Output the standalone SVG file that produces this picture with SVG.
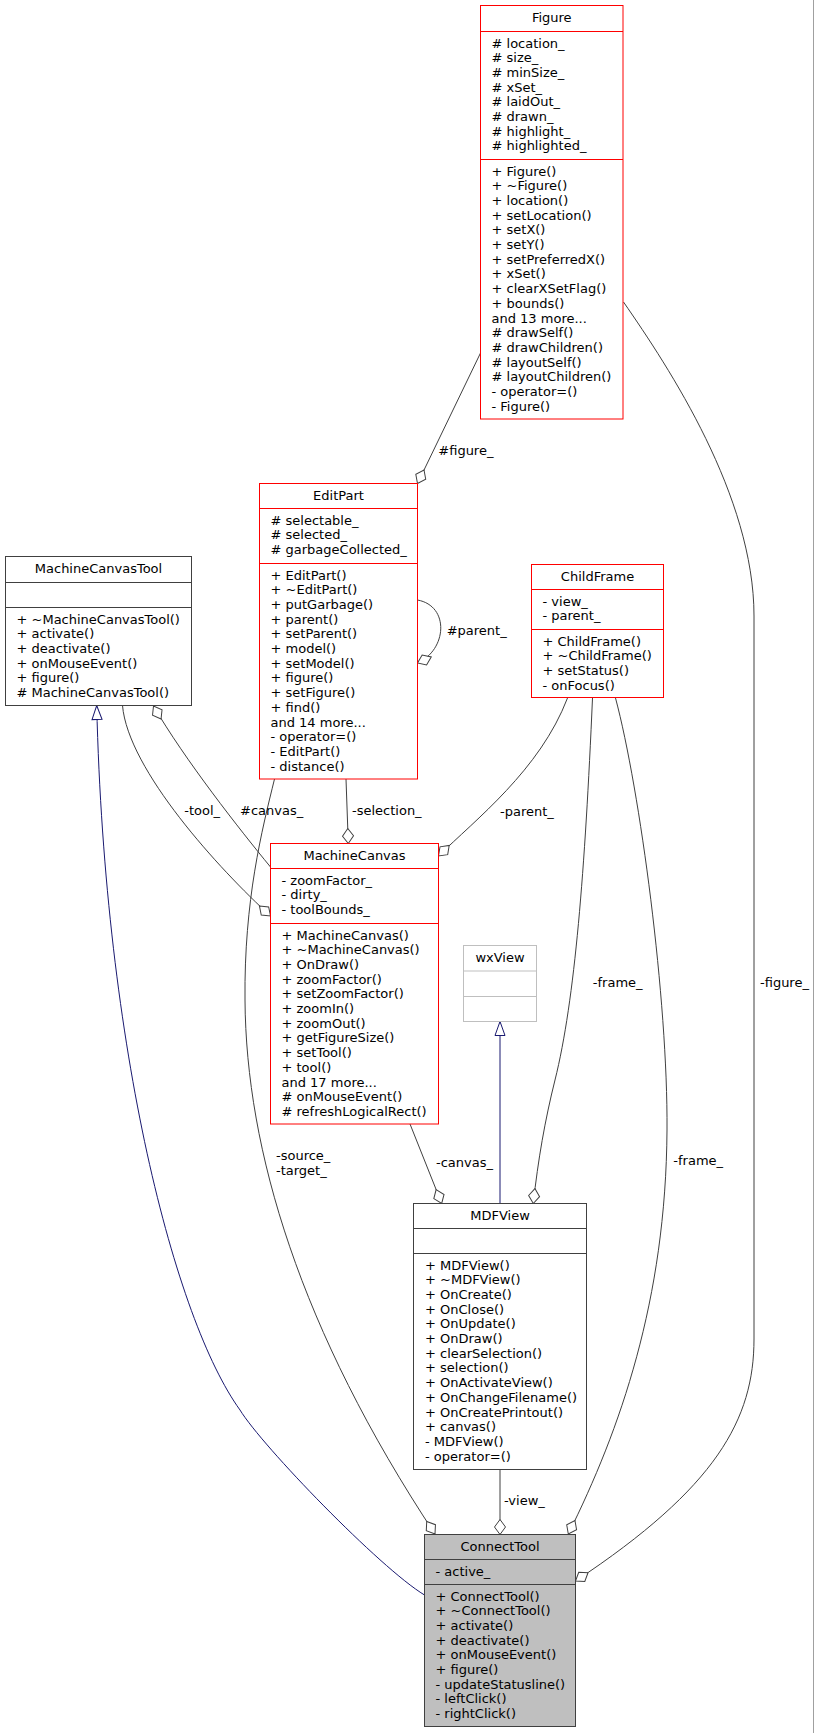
<svg xmlns="http://www.w3.org/2000/svg" width="815" height="1733" viewBox="0 0 815 1733">
<style>
text{font-family:"DejaVu Sans","Liberation Sans",sans-serif;font-size:13px;fill:#000}
.t{text-anchor:middle}
.red rect,.red line{stroke:#ff0000;fill:#fff}
.blk rect,.blk line{stroke:#404040;fill:#fff}
.gry rect,.gry line{stroke:#bfbfbf;fill:#fff}
.cur rect{stroke:#404040;fill:#bfbfbf}
.cur line{stroke:#404040}
rect,line{stroke-width:1}
.e{fill:none;stroke:#404040;stroke-width:1;marker-end:url(#dia)}
.inh{fill:none;stroke:#191970;stroke-width:1;marker-end:url(#tri)}
</style>
<defs>
<marker id="dia" viewBox="-1 -7 18 14" refX="15" refY="0" markerWidth="18" markerHeight="14" markerUnits="userSpaceOnUse" orient="auto">
<path d="M0,0 L7.5,-5.5 L15,0 L7.5,5.5 Z" fill="#fff" stroke="#404040" stroke-width="1"/>
</marker>
<marker id="tri" viewBox="-1 -7 17 14" refX="14" refY="0" markerWidth="17" markerHeight="14" markerUnits="userSpaceOnUse" orient="auto">
<path d="M0,-5 L14,0 L0,5 Z" fill="#fff" stroke="#191970" stroke-width="1"/>
</marker>
</defs>
<rect x="0" y="0" width="815" height="1733" fill="#fff"/>
<line x1="813.5" y1="0" x2="813.5" y2="1733" stroke="#a0a0a0" stroke-width="1"/>

<g id="connectors">
<path class="e" d="M480.5,353 L417.5,483.5"/>
<path class="e" d="M417.5,600 C450,606 447,650 417.5,663"/>
<path class="e" d="M122.5,705.5 C128,770 220,870 270.5,916"/>
<path class="e" d="M270.5,867 C240,830 185,760 153.5,706"/>
<path class="e" d="M346,779 L348.3,843.5"/>
<path class="e" d="M567.5,698 C540,770 475,820 438.5,856"/>
<path class="e" d="M410,1124 L441.7,1203.5"/>
<path class="inh" d="M500,1203.5 L500,1021.5"/>
<path class="e" d="M592.5,698 C585,870 575,1000 555,1080 C545,1120 538,1160 533.3,1203.5"/>
<path class="inh" d="M424.5,1595 C380,1568 262,1446 240,1410 C175,1320 105,1050 96.7,705.5"/>
<path class="e" d="M274.5,779 C262,830 244,900 245,1000 C246,1150 300,1330 435,1534"/>
<path class="e" d="M500,1469.5 L500,1534.5"/>
<path class="e" d="M615.5,698 C640,790 668,1000 667,1130 C666,1300 620,1430 568.3,1534"/>
<path class="e" d="M623.5,302 C669,367.6 754,496 754,616 L754,1339 C754,1419 716.6,1487.5 575.5,1581"/>
<text x="438.3" y="455">#figure_</text>
<text x="446.7" y="634.5">#parent_</text>
<text x="184.3" y="815">-tool_</text>
<text x="240" y="815">#canvas_</text>
<text x="352" y="815">-selection_</text>
<text x="500" y="815.5">-parent_</text>
<text x="592.8" y="987">-frame_</text>
<text x="760" y="986.5">-figure_</text>
<text x="276" y="1160">-source_</text>
<text x="276" y="1175">-target_</text>
<text x="436" y="1167">-canvas_</text>
<text x="673.3" y="1165">-frame_</text>
<text x="504" y="1504.5">-view_</text>
</g>

<g id="Figure" class="red">
<rect x="480.5" y="5.5" width="142.5" height="413.5"/>
<line x1="480.5" y1="31.5" x2="623" y2="31.5"/>
<line x1="480.5" y1="159.5" x2="623" y2="159.5"/>
<text class="t" x="551.75" y="21.5">Figure</text>
<text x="491.5" y="47.5"># location_</text>
<text x="491.5" y="62.2"># size_</text>
<text x="491.5" y="76.9"># minSize_</text>
<text x="491.5" y="91.6"># xSet_</text>
<text x="491.5" y="106.3"># laidOut_</text>
<text x="491.5" y="121"># drawn_</text>
<text x="491.5" y="135.7"># highlight_</text>
<text x="491.5" y="150.4"># highlighted_</text>
<text x="491.5" y="175.5">+ Figure()</text>
<text x="491.5" y="190.2">+ ~Figure()</text>
<text x="491.5" y="204.9">+ location()</text>
<text x="491.5" y="219.6">+ setLocation()</text>
<text x="491.5" y="234.3">+ setX()</text>
<text x="491.5" y="249">+ setY()</text>
<text x="491.5" y="263.7">+ setPreferredX()</text>
<text x="491.5" y="278.4">+ xSet()</text>
<text x="491.5" y="293.1">+ clearXSetFlag()</text>
<text x="491.5" y="307.8">+ bounds()</text>
<text x="491.5" y="322.5">and 13 more...</text>
<text x="491.5" y="337.2"># drawSelf()</text>
<text x="491.5" y="351.9"># drawChildren()</text>
<text x="491.5" y="366.6"># layoutSelf()</text>
<text x="491.5" y="381.3"># layoutChildren()</text>
<text x="491.5" y="396">- operator=()</text>
<text x="491.5" y="410.7">- Figure()</text>
</g>

<g id="EditPart" class="red">
<rect x="259.5" y="483.5" width="158" height="295.5"/>
<line x1="259.5" y1="508.5" x2="417.5" y2="508.5"/>
<line x1="259.5" y1="563.5" x2="417.5" y2="563.5"/>
<text class="t" x="338.5" y="499.5">EditPart</text>
<text x="270.5" y="524.5"># selectable_</text>
<text x="270.5" y="539.2"># selected_</text>
<text x="270.5" y="553.9"># garbageCollected_</text>
<text x="270.5" y="579.5">+ EditPart()</text>
<text x="270.5" y="594.2">+ ~EditPart()</text>
<text x="270.5" y="608.9">+ putGarbage()</text>
<text x="270.5" y="623.6">+ parent()</text>
<text x="270.5" y="638.3">+ setParent()</text>
<text x="270.5" y="653">+ model()</text>
<text x="270.5" y="667.7">+ setModel()</text>
<text x="270.5" y="682.4">+ figure()</text>
<text x="270.5" y="697.1">+ setFigure()</text>
<text x="270.5" y="711.8">+ find()</text>
<text x="270.5" y="726.5">and 14 more...</text>
<text x="270.5" y="741.2">- operator=()</text>
<text x="270.5" y="755.9">- EditPart()</text>
<text x="270.5" y="770.6">- distance()</text>
</g>

<g id="MachineCanvasTool" class="blk">
<rect x="5.5" y="556.5" width="186" height="149"/>
<line x1="5.5" y1="582.5" x2="191.5" y2="582.5"/>
<line x1="5.5" y1="607.5" x2="191.5" y2="607.5"/>
<text class="t" x="98.5" y="572.5">MachineCanvasTool</text>
<text x="16.5" y="623.5">+ ~MachineCanvasTool()</text>
<text x="16.5" y="638.2">+ activate()</text>
<text x="16.5" y="652.9">+ deactivate()</text>
<text x="16.5" y="667.6">+ onMouseEvent()</text>
<text x="16.5" y="682.3">+ figure()</text>
<text x="16.5" y="697"># MachineCanvasTool()</text>
</g>

<g id="ChildFrame" class="red">
<rect x="531.5" y="564.5" width="132" height="133"/>
<line x1="531.5" y1="589.5" x2="663.5" y2="589.5"/>
<line x1="531.5" y1="629.5" x2="663.5" y2="629.5"/>
<text class="t" x="597.5" y="580.5">ChildFrame</text>
<text x="542.5" y="605.5">- view_</text>
<text x="542.5" y="620.2">- parent_</text>
<text x="542.5" y="645.5">+ ChildFrame()</text>
<text x="542.5" y="660.2">+ ~ChildFrame()</text>
<text x="542.5" y="674.9">+ setStatus()</text>
<text x="542.5" y="689.6">- onFocus()</text>
</g>

<g id="MachineCanvas" class="red">
<rect x="270.5" y="843.5" width="168" height="280.5"/>
<line x1="270.5" y1="868.5" x2="438.5" y2="868.5"/>
<line x1="270.5" y1="923.5" x2="438.5" y2="923.5"/>
<text class="t" x="354.5" y="859.5">MachineCanvas</text>
<text x="281.5" y="884.5">- zoomFactor_</text>
<text x="281.5" y="899.2">- dirty_</text>
<text x="281.5" y="913.9">- toolBounds_</text>
<text x="281.5" y="939.5">+ MachineCanvas()</text>
<text x="281.5" y="954.2">+ ~MachineCanvas()</text>
<text x="281.5" y="968.9">+ OnDraw()</text>
<text x="281.5" y="983.6">+ zoomFactor()</text>
<text x="281.5" y="998.3">+ setZoomFactor()</text>
<text x="281.5" y="1013">+ zoomIn()</text>
<text x="281.5" y="1027.7">+ zoomOut()</text>
<text x="281.5" y="1042.4">+ getFigureSize()</text>
<text x="281.5" y="1057.1">+ setTool()</text>
<text x="281.5" y="1071.8">+ tool()</text>
<text x="281.5" y="1086.5">and 17 more...</text>
<text x="281.5" y="1101.2"># onMouseEvent()</text>
<text x="281.5" y="1115.9"># refreshLogicalRect()</text>
</g>

<g id="wxView" class="gry">
<rect x="463.5" y="945.5" width="73" height="76"/>
<line x1="463.5" y1="971" x2="536.5" y2="971"/>
<line x1="463.5" y1="996.5" x2="536.5" y2="996.5"/>
<text class="t" x="500" y="961.5">wxView</text>
</g>

<g id="MDFView" class="blk">
<rect x="413.5" y="1203.5" width="173" height="266"/>
<line x1="413.5" y1="1228.5" x2="586.5" y2="1228.5"/>
<line x1="413.5" y1="1253.5" x2="586.5" y2="1253.5"/>
<text class="t" x="500" y="1219.5">MDFView</text>
<text x="425" y="1269.5">+ MDFView()</text>
<text x="425" y="1284.2">+ ~MDFView()</text>
<text x="425" y="1298.9">+ OnCreate()</text>
<text x="425" y="1313.6">+ OnClose()</text>
<text x="425" y="1328.3">+ OnUpdate()</text>
<text x="425" y="1343">+ OnDraw()</text>
<text x="425" y="1357.7">+ clearSelection()</text>
<text x="425" y="1372.4">+ selection()</text>
<text x="425" y="1387.1">+ OnActivateView()</text>
<text x="425" y="1401.8">+ OnChangeFilename()</text>
<text x="425" y="1416.5">+ OnCreatePrintout()</text>
<text x="425" y="1431.2">+ canvas()</text>
<text x="425" y="1445.9">- MDFView()</text>
<text x="425" y="1460.6">- operator=()</text>
</g>

<g id="ConnectTool" class="cur">
<rect x="424.5" y="1534.5" width="151" height="192"/>
<line x1="424.5" y1="1559.5" x2="575.5" y2="1559.5"/>
<line x1="424.5" y1="1584.5" x2="575.5" y2="1584.5"/>
<text class="t" x="500" y="1550.5">ConnectTool</text>
<text x="435.5" y="1575.5">- active_</text>
<text x="435.5" y="1600.5">+ ConnectTool()</text>
<text x="435.5" y="1615.2">+ ~ConnectTool()</text>
<text x="435.5" y="1629.9">+ activate()</text>
<text x="435.5" y="1644.6">+ deactivate()</text>
<text x="435.5" y="1659.3">+ onMouseEvent()</text>
<text x="435.5" y="1674">+ figure()</text>
<text x="435.5" y="1688.7">- updateStatusline()</text>
<text x="435.5" y="1703.4">- leftClick()</text>
<text x="435.5" y="1718.1">- rightClick()</text>
</g>
</svg>
